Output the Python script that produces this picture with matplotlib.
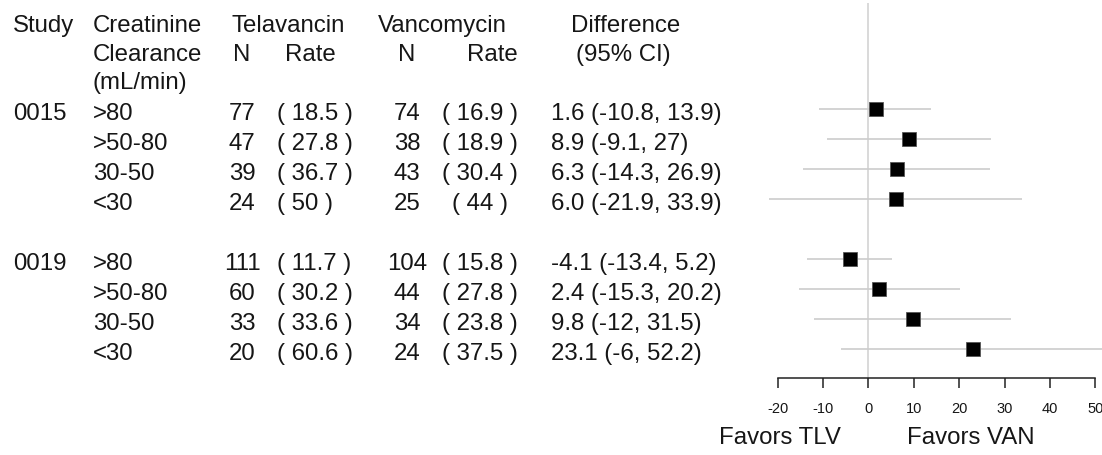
import matplotlib
matplotlib.use("Agg")
import matplotlib.pyplot as plt

plt.rcParams['font.family'] = ['Liberation Sans', 'DejaVu Sans']

# per-subgroup results, study 0015 then study 0019
studies = ['0015', '0019']
crcl = ['>80', '>50-80', '30-50', '<30', '>80', '>50-80', '30-50', '<30']
tlv_n = [77, 47, 39, 24, 111, 60, 33, 20]
tlv_rate = [18.5, 27.8, 36.7, 50, 11.7, 30.2, 33.6, 60.6]
van_n = [74, 38, 43, 25, 104, 44, 34, 24]
van_rate = [16.9, 18.9, 30.4, 44, 15.8, 27.8, 23.8, 37.5]
diff = [1.6, 8.9, 6.3, 6.0, -4.1, 2.4, 9.8, 23.1]
ci_lo = [-10.8, -9.1, -14.3, -21.9, -13.4, -15.3, -12, -6]
ci_hi = [13.9, 27, 26.9, 33.9, 5.2, 20.2, 31.5, 52.2]
xticks = [-20, -10, 0, 10, 20, 30, 40, 50]

W, H = 1102, 455
fig = plt.figure(figsize=(W / 100, H / 100), dpi=100)

# text table, laid out in pixel coordinates
tab = fig.add_axes([0, 0, 1, 1])
tab.set_xlim(0, W)
tab.set_ylim(H, 0)
tab.axis('off')

fs = 17.3
kw = dict(fontsize=fs, color='#161616', va='baseline')

tab.text(13, 32, 'Study', ha='left', **kw)
tab.text(93, 32, 'Creatinine', ha='left', **kw)
tab.text(93, 61, 'Clearance', ha='left', **kw)
tab.text(93, 89, '(mL/min)', ha='left', **kw)
tab.text(231, 32, 'Telavancin', ha='left', **kw)
tab.text(242, 61, 'N', ha='center', **kw)
tab.text(310, 61, 'Rate', ha='center', **kw)
tab.text(378, 32, 'Vancomycin', ha='left', **kw)
tab.text(407, 61, 'N', ha='center', **kw)
tab.text(492, 61, 'Rate', ha='center', **kw)
tab.text(626, 32, 'Difference', ha='center', **kw)
tab.text(623, 61, '(95% CI)', ha='center', **kw)

# rows sit on a 30px grid with one blank row between the studies
rows = [0, 1, 2, 3, 5, 6, 7, 8]
row_px = [109 + 30 * r for r in rows]

for s, r in zip(studies, [row_px[0], row_px[4]]):
    tab.text(13, r + 11, s, ha='left', **kw)

for i, y in enumerate(row_px):
    b = y + 11
    tab.text(93, b, crcl[i], ha='left', **kw)
    tab.text(242, b, str(tlv_n[i]), ha='center', **kw)
    tab.text(277, b, f'( {tlv_rate[i]:g} )', ha='left', **kw)
    tab.text(407, b, str(van_n[i]), ha='center', **kw)
    tab.text(480, b, f'( {van_rate[i]:g} )', ha='center', **kw)
    tab.text(551, b, f'{diff[i]:.1f} ({ci_lo[i]:g}, {ci_hi[i]:g})',
             ha='left', **kw)

# forest panel: 0 at x=868px, 4.54px per unit
x0, ppu = 868.3, 4.54
left_px = 700
ax = fig.add_axes([left_px / W, 0, 1 - left_px / W, 1])
ax.patch.set_alpha(0)
ax.set_xlim((left_px - x0) / ppu, (W - x0) / ppu)
ax.set_ylim((H - 109) / 30, (0 - 109) / 30)

axis_y = (378 - 109) / 30
ax.vlines(0, (3 - 109) / 30, axis_y, color='#d3d3d3', lw=1.2, zorder=1)
ax.hlines(rows, ci_lo, ci_hi, color='#cccccc', lw=1.2, zorder=2)
ax.plot(diff, rows, ls='none', marker='s', ms=9.8, mfc='black',
        mec='#555555', mew=0.6, zorder=3)

for side in ['top', 'left', 'right']:
    ax.spines[side].set_visible(False)
ax.spines['bottom'].set_position(('data', axis_y))
ax.spines['bottom'].set_bounds(xticks[0], xticks[-1])
ax.spines['bottom'].set_linewidth(1.1)
ax.spines['bottom'].set_color('#222222')
ax.set_xticks(xticks)
ax.set_xticklabels([str(t) for t in xticks])
ax.tick_params(axis='x', direction='out', length=7.5, width=1.1,
               color='#222222', labelsize=10.5, labelcolor='#161616', pad=10)
ax.set_yticks([])

ax.text(-19.4, (438 - 109) / 30, 'Favors TLV', ha='center', va='center',
        fontsize=fs, color='#161616')
ax.text(22.6, (438 - 109) / 30, 'Favors VAN', ha='center', va='center',
        fontsize=fs, color='#161616')

fig.savefig('out.png', dpi=100)
